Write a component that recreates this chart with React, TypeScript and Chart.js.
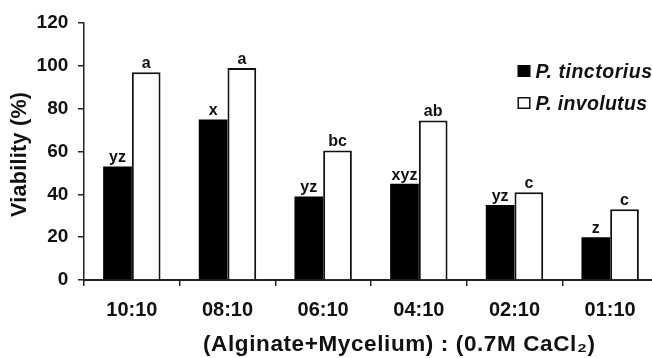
import React, { useEffect, useRef } from "react";
import { Chart, registerables } from "chart.js";

Chart.register(...registerables);

const categories = ["10:10", "08:10", "06:10", "04:10", "02:10", "01:10"];
const tinctorius = [53, 75, 39, 45, 35, 20];
const involutus = [97, 99, 60.5, 74.5, 41, 33];
const tinctoriusLetters = ["yz", "x", "yz", "xyz", "yz", "z"];
const involutusLetters = ["a", "a", "bc", "ab", "c", "c"];
const seriesNames = ["P. tinctorius", "P. involutus"];
const yTicks = [0, 20, 40, 60, 80, 100, 120];
const xTitle = "(Alginate+Mycelium) : (0.7M CaCl₂)";
const yTitle = "Viability (%)";

const FONT = "'Liberation Sans', Arial, Helvetica, sans-serif";

function drawSpaced(ctx: any, text: string, x: number, y: number, target: number, align: string) {
  ctx.letterSpacing = "0px";
  const w = ctx.measureText(text).width;
  const sp = Math.max(0, (target - w) / Math.max(1, text.length - 1));
  ctx.letterSpacing = `${sp}px`;
  ctx.textAlign = "left";
  const startX = align === "center" ? x - target / 2 : x;
  ctx.fillText(text, startX, y);
  ctx.letterSpacing = "0px";
}

const letterPlugin = {
  id: "letters",
  afterDatasetsDraw(chart: any) {
    const ctx = chart.ctx;
    const all = [tinctoriusLetters, involutusLetters];
    ctx.save();
    ctx.font = `bold 16px ${FONT}`;
    ctx.fillStyle = "#111";
    ctx.textAlign = "center";
    ctx.textBaseline = "alphabetic";
    chart.data.datasets.forEach((_: any, i: number) => {
      const meta = chart.getDatasetMeta(i);
      meta.data.forEach((bar: any, j: number) => {
        ctx.fillText(all[i][j], bar.x, bar.y - 4);
      });
    });
    ctx.restore();
  },
};

const titlePlugin = {
  id: "axisTitles",
  afterDraw(chart: any) {
    const ctx = chart.ctx;
    ctx.save();
    ctx.fillStyle = "#111";
    ctx.textBaseline = "middle";
    ctx.font = `bold 22.5px ${FONT}`;
    drawSpaced(ctx, xTitle, 399, 345, 392, "center");
    ctx.font = `bold 21.5px ${FONT}`;
    ctx.translate(20.5, 154.5);
    ctx.rotate(-Math.PI / 2);
    drawSpaced(ctx, yTitle, 0, 0, 125, "center");
    ctx.restore();
  },
};

const legendPlugin = {
  id: "customLegend",
  afterDraw(chart: any) {
    const ctx = chart.ctx;
    const widths = [116.5, 111.5];
    ctx.save();
    chart.data.datasets.forEach((ds: any, i: number) => {
      const top = 65 + i * 32;
      ctx.fillStyle = ds.backgroundColor;
      ctx.fillRect(517.5, top, 13, 12);
      if (ds.borderWidth) {
        ctx.strokeStyle = "#111";
        ctx.lineWidth = 1.5;
        ctx.strokeRect(518.25, top + 0.75, 11.5, 10.5);
      }
      ctx.fillStyle = "#111";
      ctx.font = `italic bold 19.5px ${FONT}`;
      ctx.textBaseline = "alphabetic";
      drawSpaced(ctx, ds.label, 535.5, top + 13, widths[i], "left");
    });
    ctx.restore();
  },
};

export default function App() {
  const ref = useRef<HTMLCanvasElement>(null);
  useEffect(() => {
    document.body.style.overflow = "hidden";
    const chart = new Chart(ref.current!, {
      type: "bar",
      data: {
        labels: categories,
        datasets: [
          {
            label: seriesNames[0],
            data: tinctorius,
            backgroundColor: "#000000",
            borderWidth: 0,
          },
          {
            label: seriesNames[1],
            data: involutus,
            backgroundColor: "#ffffff",
            borderColor: "#111111",
            borderWidth: 2,
          },
        ],
      },
      options: {
        responsive: false,
        animation: false,
        categoryPercentage: 0.6,
        barPercentage: 1.0,
        layout: { padding: { top: 23, right: 2, left: 0, bottom: 0 } },
        plugins: {
          legend: { display: false },
          tooltip: { enabled: false },
        },
        scales: {
          x: {
            afterFit: (s: any) => {
              s.height = 78;
            },
            border: { display: true, color: "#222", width: 2 },
            grid: {
              display: true,
              drawOnChartArea: false,
              drawTicks: true,
              tickLength: 6,
              color: "#222",
              lineWidth: 1.5,
              offset: true,
            },
            ticks: {
              color: "#111",
              font: { family: FONT, size: 20, weight: "bold" },
              padding: 12.5,
              maxRotation: 0,
            },
            title: { display: false },
          },
          y: {
            min: 0,
            max: 120,
            afterFit: (s: any) => {
              s.width = 84;
            },
            afterBuildTicks: (s: any) => {
              s.ticks = yTicks.map((v) => ({ value: v }));
            },
            border: { display: true, color: "#222", width: 1.5 },
            grid: {
              display: true,
              drawOnChartArea: false,
              drawTicks: true,
              tickLength: 6,
              color: "#222",
              lineWidth: 1.5,
            },
            ticks: {
              color: "#111",
              font: { family: FONT, size: 19, weight: "bold" },
              padding: 9.7,
              stepSize: 20,
            },
            title: { display: false },
          },
        },
      },
      plugins: [letterPlugin, titlePlugin, legendPlugin],
    });
    return () => chart.destroy();
  }, []);
  return (
    <div style={{ position: "absolute", left: 0, top: 0, width: 660, height: 358, background: "#fff" }}>
      <canvas ref={ref} width={660} height={358} />
    </div>
  );
}
